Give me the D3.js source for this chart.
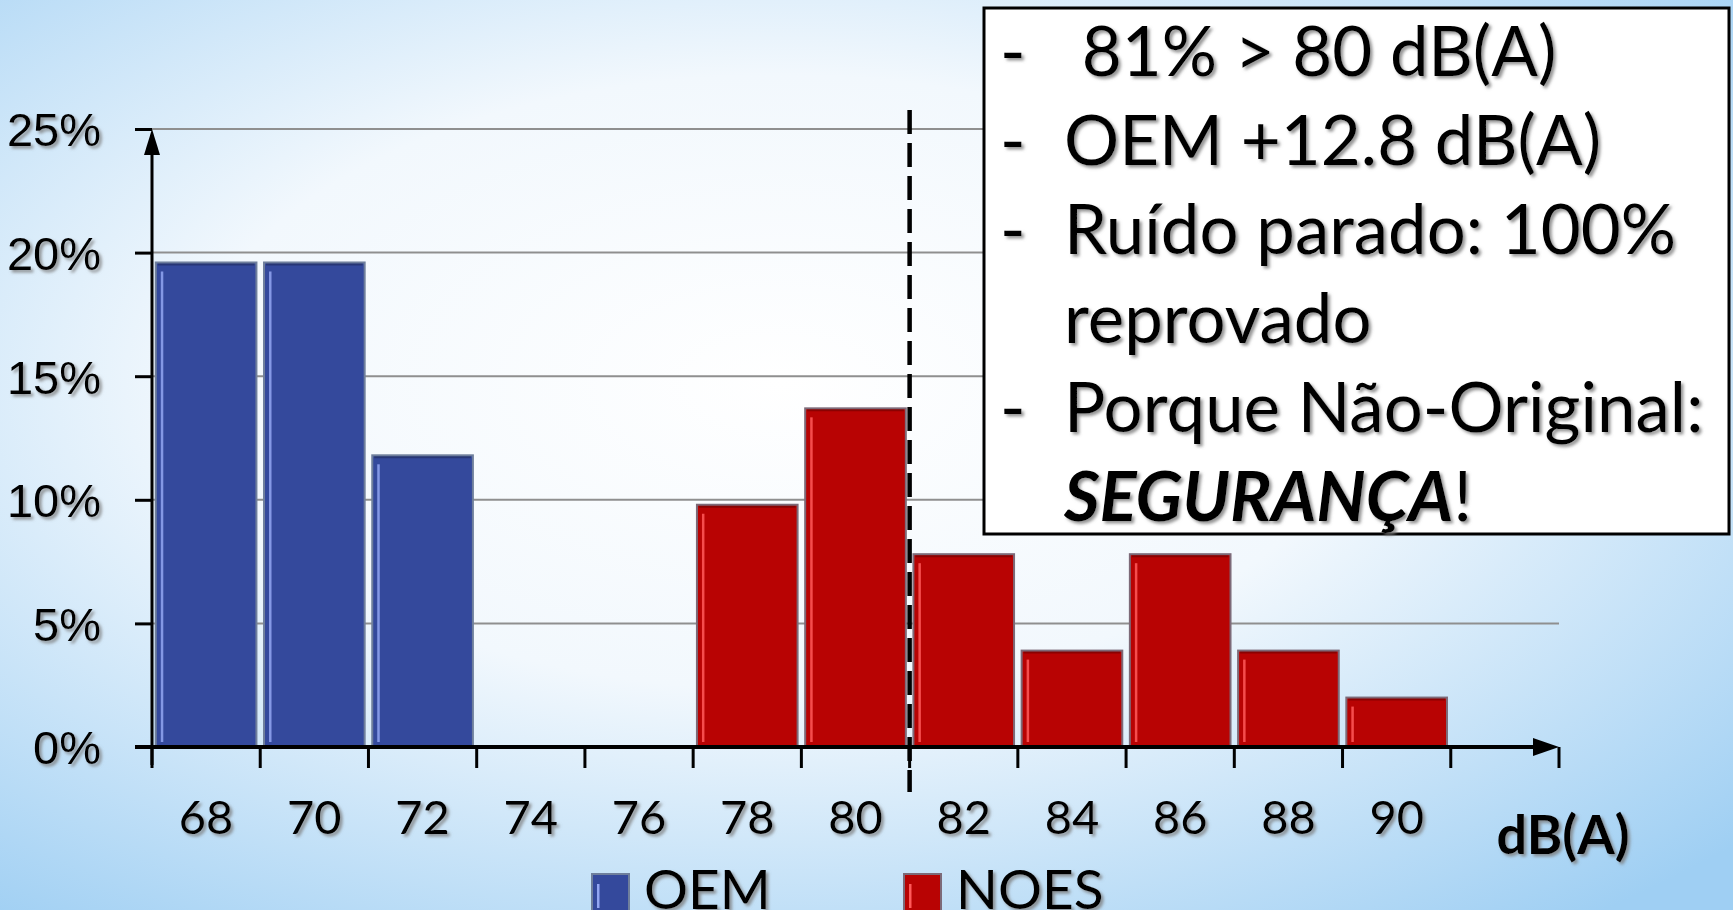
<!DOCTYPE html>
<html>
<head>
<meta charset="utf-8">
<script src="https://cdn.jsdelivr.net/npm/d3@7"></script>
<style>
  html, body { margin: 0; padding: 0; overflow: hidden; }
  svg { display: block; font-family: Lato, 'Open Sans', sans-serif; }
</style>
</head>
<body>
<script>
// noise level distribution, share of all vehicles per dB(A) class
const categories = ['68', '70', '72', '74', '76', '78', '80', '82', '84', '86', '88', '90']
const oemValues = [0.196, 0.196, 0.118, 0, 0, 0, 0, 0, 0, 0, 0, 0]
const noesValues = [0, 0, 0, 0, 0, 0.098, 0.137, 0.078, 0.039, 0.078, 0.039, 0.020]
const yTicks = [0, 0.05, 0.10, 0.15, 0.20, 0.25]
const seriesNames = ['OEM', 'NOES']
const notes = [
  { dash: true, parts: [{ t: ' 81% > 80 dB(A)' }] },
  { dash: true, parts: [{ t: 'OEM +12.8 dB(A)' }] },
  { dash: true, parts: [{ t: 'Ruído parado: 100%' }] },
  { dash: false, parts: [{ t: 'reprovado' }] },
  { dash: true, parts: [{ t: 'Porque Não-Original:' }] },
  { dash: false, parts: [{ t: 'SEGURANÇA', bi: true }, { t: '!' }] },
]

const width = 1733
const height = 910
const x0 = 152
const xEnd = 1559
const step = (xEnd - x0) / 13

const colors = { OEM: '#34499c', NOES: '#b80303' }
const lights = { OEM: '#93a6f2', NOES: '#ff5a5a' }
const edges = { OEM: '#6f7f9c', NOES: '#7d6a78' }

const svg = d3.select('body')
  .append('svg')
  .attr('width', width)
  .attr('height', height)

const defs = svg.append('defs')

const bg = defs.append('radialGradient')
  .attr('id', 'bg')
  .attr('cx', '0.45').attr('cy', '0.42').attr('r', '0.75')
bg.append('stop').attr('offset', '0').attr('stop-color', '#ffffff')
bg.append('stop').attr('offset', '0.45').attr('stop-color', '#f2f8fd')
bg.append('stop').attr('offset', '1').attr('stop-color', '#9fcff3')

const shadow = defs.append('filter')
  .attr('id', 'shadow')
  .attr('x', '-10%').attr('y', '-10%').attr('width', '130%').attr('height', '140%')
shadow.append('feDropShadow')
  .attr('dx', 2.5).attr('dy', 2.5)
  .attr('stdDeviation', 1.5)
  .attr('flood-color', '#7a7a7a')
  .attr('flood-opacity', 0.8)

svg.append('rect')
  .attr('width', width)
  .attr('height', height)
  .attr('fill', 'url(#bg)')

// scales
const xScale = d3.scaleBand()
  .domain(categories)
  .range([x0, x0 + 12 * step])
  .paddingInner(0.07)
  .paddingOuter(0.035)

const yScale = d3.scaleLinear()
  .domain([0, 0.25])
  .range([747, 129])

// grid lines
svg.append('g')
  .selectAll('line')
  .data(yTicks.filter(d => d > 0))
  .enter()
  .append('line')
  .attr('x1', x0)
  .attr('x2', xEnd)
  .attr('y1', d => yScale(d))
  .attr('y2', d => yScale(d))
  .attr('stroke', '#8f8f8f')
  .attr('stroke-width', 2)

// bars
function drawSeries(name, values) {
  const data = categories.map((c, i) => ({ c, v: values[i] })).filter(d => d.v > 0)
  const g = svg.append('g')
  const bar = g.selectAll('g')
    .data(data)
    .enter()
    .append('g')
  bar.append('rect')
    .attr('x', d => xScale(d.c))
    .attr('y', d => yScale(d.v))
    .attr('width', xScale.bandwidth())
    .attr('height', d => yScale(0) - yScale(d.v))
    .attr('fill', colors[name])
    .attr('stroke', edges[name])
    .attr('stroke-width', 2)
  // bevel highlight on the left edge
  bar.append('rect')
    .attr('x', d => xScale(d.c) + 5)
    .attr('y', d => yScale(d.v) + 9)
    .attr('width', 2.5)
    .attr('height', d => Math.max(0, yScale(0) - yScale(d.v) - 14))
    .attr('fill', lights[name])
    .attr('opacity', 0.85)
  bar.append('line')
    .attr('x1', d => xScale(d.c) + 2)
    .attr('x2', d => xScale(d.c) + xScale.bandwidth() - 2)
    .attr('y1', d => yScale(d.v) + 2)
    .attr('y2', d => yScale(d.v) + 2)
    .attr('stroke', 'rgba(0,0,0,0.25)')
    .attr('stroke-width', 2)
}
drawSeries('OEM', oemValues)
drawSeries('NOES', noesValues)

// y axis
const yAxis = d3.axisLeft(yScale)
  .tickValues(yTicks)
  .tickSize(17)
  .tickFormat(d3.format('.0%'))

const yg = svg.append('g')
  .attr('transform', 'translate(' + x0 + ',0)')
  .call(yAxis)
yg.select('.domain').remove()
yg.selectAll('.tick line').attr('stroke', '#000').attr('stroke-width', 3)
yg.selectAll('.tick text')
  .attr('x', -51)
  .attr('dy', '0.36em')
  .style('font-size', '47px')
  .attr('fill', '#000')
  .attr('filter', 'url(#shadow)')

svg.append('line')
  .attr('x1', x0).attr('x2', x0)
  .attr('y1', yScale(0) + 18).attr('y2', 150)
  .attr('stroke', '#000').attr('stroke-width', 3)
svg.append('path')
  .attr('d', 'M' + x0 + ',' + 129 + 'L' + (x0 - 8) + ',155L' + (x0 + 8) + ',155Z')
  .attr('fill', '#000')

// x axis
const xg = svg.append('g')
  .attr('transform', 'translate(0,' + yScale(0) + ')')
xg.append('line')
  .attr('x1', x0 - 17).attr('x2', xEnd - 20)
  .attr('stroke', '#000').attr('stroke-width', 4)
xg.append('path')
  .attr('d', 'M' + xEnd + ',0L' + (xEnd - 26) + ',-9L' + (xEnd - 26) + ',9Z')
  .attr('fill', '#000')
xg.selectAll('.bt')
  .data(d3.range(14))
  .enter()
  .append('line')
  .attr('class', 'bt')
  .attr('x1', i => x0 + i * step)
  .attr('x2', i => x0 + i * step)
  .attr('y1', 0)
  .attr('y2', 21)
  .attr('stroke', '#000')
  .attr('stroke-width', 3)
xg.selectAll('.lbl')
  .data(categories)
  .enter()
  .append('text')
  .attr('class', 'lbl')
  .attr('x', d => xScale(d) + xScale.bandwidth() / 2)
  .attr('y', 87)
  .attr('text-anchor', 'middle')
  .style('font-size', '47px')
  .attr('filter', 'url(#shadow)')
  .text(d => d)

svg.append('text')
  .attr('x', 1563)
  .attr('y', 854)
  .attr('text-anchor', 'middle')
  .style('font-size', '54px')
  .style('font-weight', 'bold')
  .attr('filter', 'url(#shadow)')
  .text('dB(A)')

// limit line between the 80 and 82 classes
const limitX = xScale('80') + xScale.bandwidth() + xScale.step() * xScale.paddingInner() / 2
svg.append('line')
  .attr('x1', limitX).attr('x2', limitX)
  .attr('y1', 110).attr('y2', 792)
  .attr('stroke', '#000')
  .attr('stroke-width', 4.5)
  .attr('stroke-dasharray', '24,9')

// legend
const legend = svg.append('g')
const legendX = [592, 904]
seriesNames.forEach((name, i) => {
  legend.append('rect')
    .attr('x', legendX[i]).attr('y', 874)
    .attr('width', 37).attr('height', 40)
    .attr('fill', colors[name])
    .attr('stroke', edges[name]).attr('stroke-width', 2)
  legend.append('rect')
    .attr('x', legendX[i] + 5).attr('y', 884)
    .attr('width', 2.5).attr('height', 24)
    .attr('fill', lights[name])
  legend.append('text')
    .attr('x', legendX[i] + 52)
    .attr('y', 909)
    .style('font-size', '55px')
    .attr('filter', 'url(#shadow)')
    .text(name)
})

// notes box
svg.append('rect')
  .attr('x', 984).attr('y', 8)
  .attr('width', 745).attr('height', 526)
  .attr('fill', '#fff')
  .attr('stroke', '#000')
  .attr('stroke-width', 3)

const noteG = svg.append('g').attr('filter', 'url(#shadow)')
notes.forEach((n, i) => {
  const y = 76 + i * 89
  if (n.dash) {
    noteG.append('text')
      .attr('x', 1000).attr('y', y)
      .style('font-size', '69px')
      .text('-')
  }
  const t = noteG.append('text')
    .attr('x', 1064).attr('y', y)
    .style('font-size', '69px')
    .attr('xml:space', 'preserve')
    .style('white-space', 'pre')
  n.parts.forEach(p => {
    t.append('tspan')
      .style('font-weight', p.bi ? 'bold' : 'normal')
      .style('font-style', p.bi ? 'italic' : 'normal')
      .text(p.t)
  })
})
</script>
</body>
</html>
